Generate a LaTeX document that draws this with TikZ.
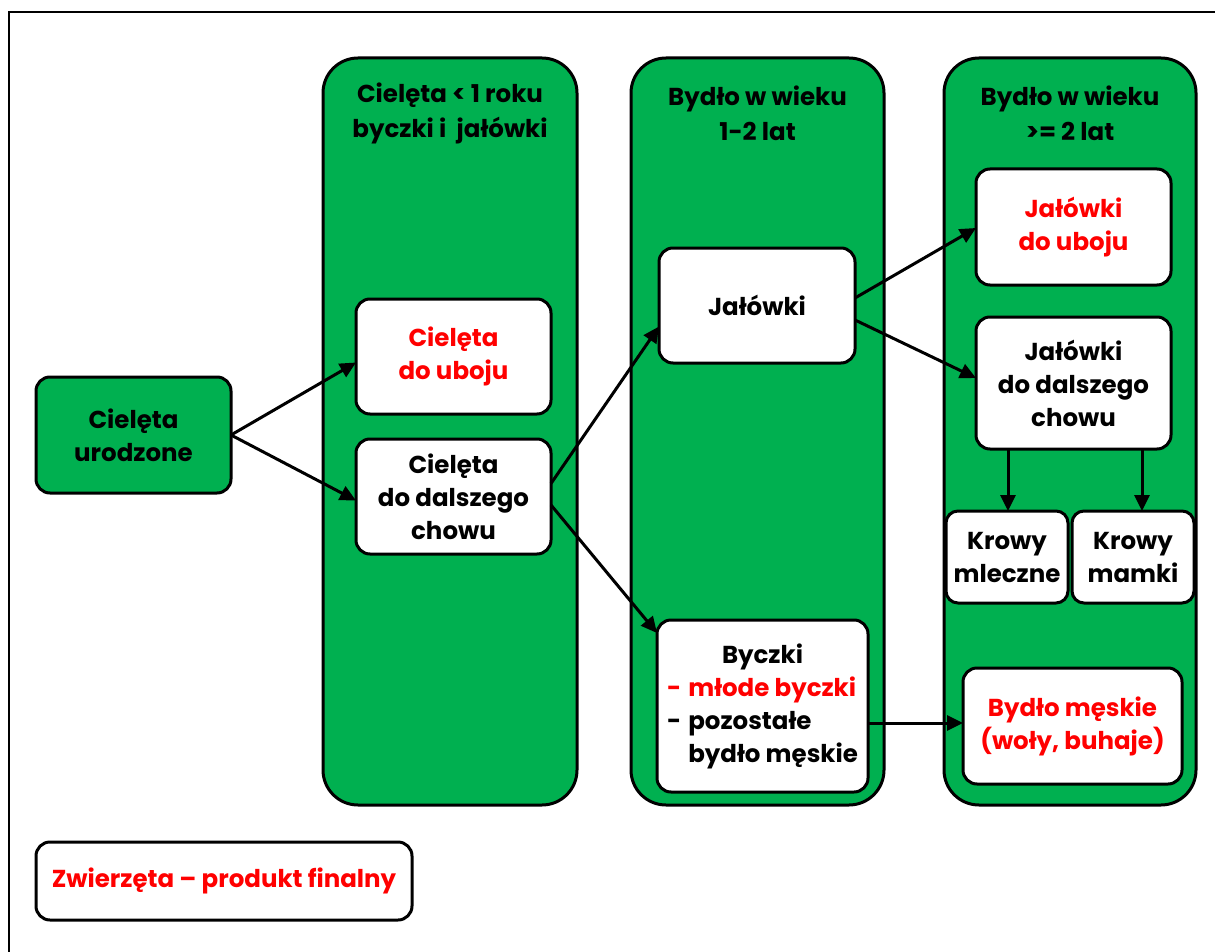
\documentclass[tikz,border=0pt]{standalone}
\usepackage{fontspec}
\setmainfont{Poppins}
\usetikzlibrary{arrows.meta,calc}
\definecolor{grn}{HTML}{00B050}
\definecolor{rd}{HTML}{FF0000}
\newcommand\fnt{\fontsize{24.5}{33}\selectfont\bfseries}
\newcommand\fntt{\fontsize{24.5}{35}\selectfont\bfseries}
\tikzset{
  col/.style={draw, line width=3pt, fill=grn, rounded corners=35pt, inner sep=0pt, outer sep=0pt},
  box/.style={draw, line width=3pt, fill=white, rounded corners=14pt, inner sep=0pt, outer sep=0pt, align=center, font=\fnt},
  gbox/.style={box, fill=grn},
  ttl/.style={align=center, font=\fntt, inner sep=0pt},
  arr/.style={line width=3pt, -{Triangle[length=16pt,width=15pt]}},
}
\begin{document}
\begin{tikzpicture}[x=1pt,y=-1pt]
\useasboundingbox (0,0) rectangle (1215,952);
\fill[white] (0,0) rectangle (1215,952);
\draw[line width=2pt] (9,952) -- (9,12) -- (1215,12);

% columns
\node[col, minimum width=254, minimum height=747] (c1) at (450,431.5) {};
\node[col, minimum width=253, minimum height=747] (c2) at (757.5,431.5) {};
\node[col, minimum width=252, minimum height=747] (c3) at (1070,431.5) {};

\node[ttl] (t1) at (450,113) {Cielęta < 1 roku\\byczki i\ \ jałówki};
\node[ttl] (t2) at (757.5,113) {Bydło w wieku\\1-2 lat};
\node[ttl] (t3) at (1070,113) {Bydło w wieku\\>= 2 lat};

% boxes
\node[gbox, minimum width=195, minimum height=116] (urod) at (133.5,435) {Cielęta\\urodzone};
\node[box, minimum width=195, minimum height=115, text=rd] (uboju) at (453.5,356.5) {Cielęta\\do uboju};
\node[box, minimum width=195, minimum height=115] (dalsz) at (453.5,496.5) {Cielęta\\do dalszego\\chowu};
\node[box, minimum width=196, minimum height=115] (jal) at (757,305.5) {Jałówki};
\node[box, minimum width=211, minimum height=172] (byczki) at (762.5,706)
  {\begin{tabular}{@{}l@{}l@{}}\multicolumn{2}{c}{Byczki}\\ \color{rd}-\kern7pt & \color{rd}młode byczki\\ -\kern7pt & pozostałe\\ & bydło męskie\end{tabular}};
\node[box, minimum width=195, minimum height=116, text=rd] (jdu) at (1073.5,227) {Jałówki\\do uboju};
\node[box, minimum width=195, minimum height=132] (jdc) at (1073.5,383) {Jałówki\\do dalszego\\chowu};
\node[box, rounded corners=12pt, minimum width=122, minimum height=92] (mlecz) at (1007,557) {Krowy\\mleczne};
\node[box, rounded corners=12pt, minimum width=122, minimum height=92] (mamki) at (1133,557) {Krowy\\mamki};
\node[box, minimum width=219, minimum height=116, text=rd] (bm) at (1072.5,726) {Bydło męskie\\(woły, buhaje)};
\node[box, minimum width=376, minimum height=78, text=rd] (leg) at (224,881) {Zwierzęta – produkt finalny};

% helper coordinates
\coordinate (m1) at ($(mlecz.north)+(1,0)$);
\coordinate (m2) at ($(mamki.north)+(9,0)$);
\coordinate (b1) at ($(byczki.east)+(0,17)$);

% arrows
\draw[arr] (urod.east) -- ($(uboju.west)+(0,6)$);
\draw[arr] (urod.east) -- ($(dalsz.west)+(0,4)$);
\draw[arr] ($(dalsz.east)+(0,-13)$) -- ($(jal.west)+(0,21)$);
\draw[arr] ($(dalsz.east)+(0,8.5)$) -- ($(byczki.west)+(0,-73)$);
\draw[arr] ($(jal.east)+(0,-7.5)$) -- ($(jdu.west)+(0,1)$);
\draw[arr] ($(jal.east)+(0,14.5)$) -- ($(jdc.west)+(0,-5)$);
\draw[arr] (m1 |- jdc.south) -- (m1);
\draw[arr] (m2 |- jdc.south) -- (m2);
\draw[arr] (b1) -- (bm.west |- b1);
\end{tikzpicture}
\end{document}
